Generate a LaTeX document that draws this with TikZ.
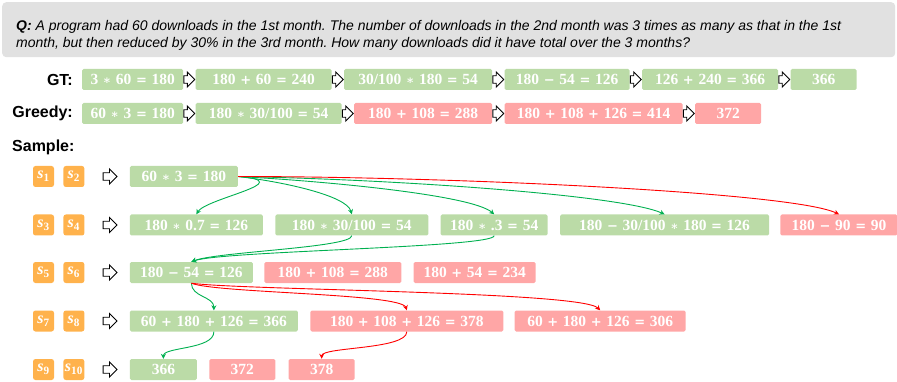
\documentclass[tikz,border=0pt]{standalone}
\usepackage[no-math]{fontspec}
\usepackage{tikz}
\usetikzlibrary{shapes.arrows,arrows.meta,positioning}
\newfontfamily\qfont{Liberation Sans}
\newfontfamily\eqfont{Liberation Serif}
\newfontfamily\symf{DejaVu Serif}
\definecolor{stepgreen}{RGB}{187,219,167}
\definecolor{stepred}{RGB}{255,166,166}
\definecolor{badgeorange}{RGB}{255,178,76}
\definecolor{qgray}{RGB}{225,225,225}
\definecolor{linkgreen}{RGB}{0,176,80}
\definecolor{linkred}{RGB}{255,0,0}
\newcommand{\op}[1]{\hspace{0.3em}{\symf\fontsize{13}{13}\selectfont #1}\hspace{0.3em}}
\newcommand{\mul}{\op{\fontsize{12}{12}\selectfont ∗}}
\newcommand{\mns}{\op{−}}
\newcommand{\sid}[1]{\textit{s}\textsubscript{#1}}

\begin{document}
\begin{tikzpicture}[x=1pt, y=-1pt,
  eq/.style={minimum height=21pt, inner sep=0pt, rounded corners=1.5pt, text=white,
             font=\eqfont\bfseries\fontsize{15.5}{16}\selectfont},
  ok/.style={eq, fill=stepgreen},
  bad/.style={eq, fill=stepred},
  badge/.style={fill=badgeorange, rounded corners=2.5pt, minimum size=21pt, inner sep=0pt,
                text=white, font=\eqfont\bfseries\fontsize{16}{16}\selectfont},
  hollow/.style={single arrow, draw=black, fill=white, line width=0.9pt, inner xsep=0pt,
                 inner ysep=3.3pt, single arrow head extend=3.8pt, minimum height=11pt},
  lab/.style={inner sep=0pt, font=\qfont\fontsize{16}{18}\selectfont\bfseries},
  go/.style={linkgreen, line width=0.9pt, -{Stealth[length=5pt,width=5pt]}},
  nogo/.style={linkred, line width=0.9pt, -{Stealth[length=5pt,width=5pt]}}
]
\useasboundingbox (0,0) rectangle (897,382);

% question
\node[fill=qgray, rounded corners=4pt, anchor=north west, minimum width=893pt, minimum height=55pt] (q) at (2,2) {};
\node[anchor=west, align=left, inner sep=0pt, font=\qfont\itshape\fontsize{14}{17}\selectfont\frenchspacing] (qtext) at (16,35)
  {\textbf{Q:} A program had 60 downloads in the 1st month. The number of downloads in the 2nd month was 3 times as many as that in the 1st\\
   month, but then reduced by 30\% in the 3rd month. How many downloads did it have total over the 3 months?};

% ground truth
\node[lab, anchor=east] (gtlab) at (73,79.5) {GT:};
\node[ok, minimum width=101pt, anchor=west] (gt1) at (82,79.5) {3\mul60\op{=}180};
\node[hollow, right=0pt of gt1] (gtp1) {};
\node[ok, minimum width=136pt, right=0pt of gtp1] (gt2) {180\op{+}60\op{=}240};
\node[hollow, right=0pt of gt2] (gtp2) {};
\node[ok, minimum width=148pt, right=0pt of gtp2] (gt3) {30/100\mul180\op{=}54};
\node[hollow, right=0pt of gt3] (gtp3) {};
\node[ok, minimum width=125pt, right=0pt of gtp3] (gt4) {180\mns54\op{=}126};
\node[hollow, right=0pt of gt4] (gtp4) {};
\node[ok, minimum width=136pt, right=0pt of gtp4] (gt5) {126\op{+}240\op{=}366};
\node[hollow, right=0pt of gt5] (gtp5) {};
\node[ok, minimum width=66pt, right=0pt of gtp5] (gt6) {366};

% greedy
\node[lab, anchor=east] (grlab) at (73,113.5) {Greedy:};
\node[ok, minimum width=101pt, anchor=west] (gr1) at (82,113.5) {60\mul3\op{=}180};
\node[hollow, right=0pt of gr1] (grp1) {};
\node[ok, minimum width=146pt, right=0pt of grp1] (gr2) {180\mul30/100\op{=}54};
\node[hollow, right=0pt of gr2] (grp2) {};
\node[bad, minimum width=138pt, right=0pt of grp2] (gr3) {180\op{+}108\op{=}288};
\node[hollow, right=0pt of gr3] (grp3) {};
\node[bad, minimum width=178pt, right=0pt of grp3] (gr4) {180\op{+}108\op{+}126\op{=}414};
\node[hollow, right=0pt of gr4] (grp4) {};
\node[bad, minimum width=66pt, right=0pt of grp4] (gr5) {372};

% samples
\node[lab, anchor=west] (samp) at (12,147) {Sample:};

\node[badge] (s1) at (43.5,176.5) {\sid{1}};
\node[badge, right=9pt of s1] (s2) {\sid{2}};
\node[hollow, minimum height=14pt, right=18pt of s2] (p1) {};
\node[ok, minimum width=108pt, right=12pt of p1] (r1a) {60\mul3\op{=}180};

\node[badge] (s3) at (43.5,225) {\sid{3}};
\node[badge, right=9pt of s3] (s4) {\sid{4}};
\node[hollow, minimum height=14pt, right=18pt of s4] (p2) {};
\node[ok, minimum width=133pt, right=12pt of p2] (r2a) {180\mul0.7\op{=}126};
\node[ok, minimum width=153pt, right=12pt of r2a] (r2b) {180\mul30/100\op{=}54};
\node[ok, minimum width=107pt, right=12pt of r2b] (r2c) {180\mul.3\op{=}54};
\node[ok, minimum width=209pt, right=12pt of r2c] (r2d) {180\mns30/100\mul180\op{=}126};
\node[bad, minimum width=117pt, right=11pt of r2d] (r2e) {180\mns90\op{=}90};

\node[badge] (s5) at (43.5,272.5) {\sid{5}};
\node[badge, right=9pt of s5] (s6) {\sid{6}};
\node[hollow, minimum height=14pt, right=18pt of s6] (p3) {};
\node[ok, minimum width=123pt, right=12pt of p3] (r3a) {180\mns54\op{=}126};
\node[bad, minimum width=137pt, right=11pt of r3a] (r3b) {180\op{+}108\op{=}288};
\node[bad, minimum width=122pt, right=12pt of r3b] (r3c) {180\op{+}54\op{=}234};

\node[badge] (s7) at (43.5,321) {\sid{7}};
\node[badge, right=9pt of s7] (s8) {\sid{8}};
\node[hollow, minimum height=14pt, right=18pt of s8] (p4) {};
\node[ok, minimum width=168pt, right=12pt of p4] (r4a) {60\op{+}180\op{+}126\op{=}366};
\node[bad, minimum width=193pt, right=12pt of r4a] (r4b) {180\op{+}108\op{+}126\op{=}378};
\node[bad, minimum width=171pt, right=11pt of r4b] (r4c) {60\op{+}180\op{+}126\op{=}306};

\node[badge] (s9) at (43.5,369.5) {\sid{9}};
\node[badge, right=9pt of s9] (s10) {\sid{10}};
\node[hollow, minimum height=14pt, right=18pt of s10] (p5) {};
\node[ok, minimum width=67pt, right=12pt of p5] (r5a) {366};
\node[bad, minimum width=66pt, right=12pt of r5a] (r5b) {372};
\node[bad, minimum width=66pt, right=13pt of r5b] (r5c) {378};

% links between steps
\draw[go] (r1a.east) .. controls +(63,5) and +(9.5,-16) .. (r2a.north);
\draw[go] (r1a.east) .. controls +(43,5) and +(-5,-19) .. (r2b.north);
\draw[go] (r1a.east) .. controls +(93,5) and +(-22,-19) .. (r2c.north);
\draw[go] (r1a.east) .. controls +(163,3) and +(-42,-19) .. (r2d.north);
\draw[nogo] (r1a.east) .. controls +(213,0) and +(-46,-22) .. (r2e.north);

\draw[go] (r2b.south) .. controls +(0,12) and +(25,-10) .. (r3a.north);
\draw[go] (r2c.south) .. controls +(0,12) and +(30,-11) .. (r3a.north);

\draw[go] (r3a.south) .. controls +(0,14) and +(0,-14) .. (r4a.north);
\draw[nogo] (r3a.south) .. controls +(24.5,10) and +(-5.5,-17) .. (r4b.north);
\draw[nogo] (r3a.south) .. controls +(49.5,7) and +(-18.5,-19) .. (r4c.north);

\draw[go] (r4a.south) .. controls +(0,18) and +(0,-12) .. (r5a.north);
\draw[nogo] (r4b.south) .. controls +(0,18) and +(0,-12) .. (r5c.north);
\end{tikzpicture}
\end{document}
